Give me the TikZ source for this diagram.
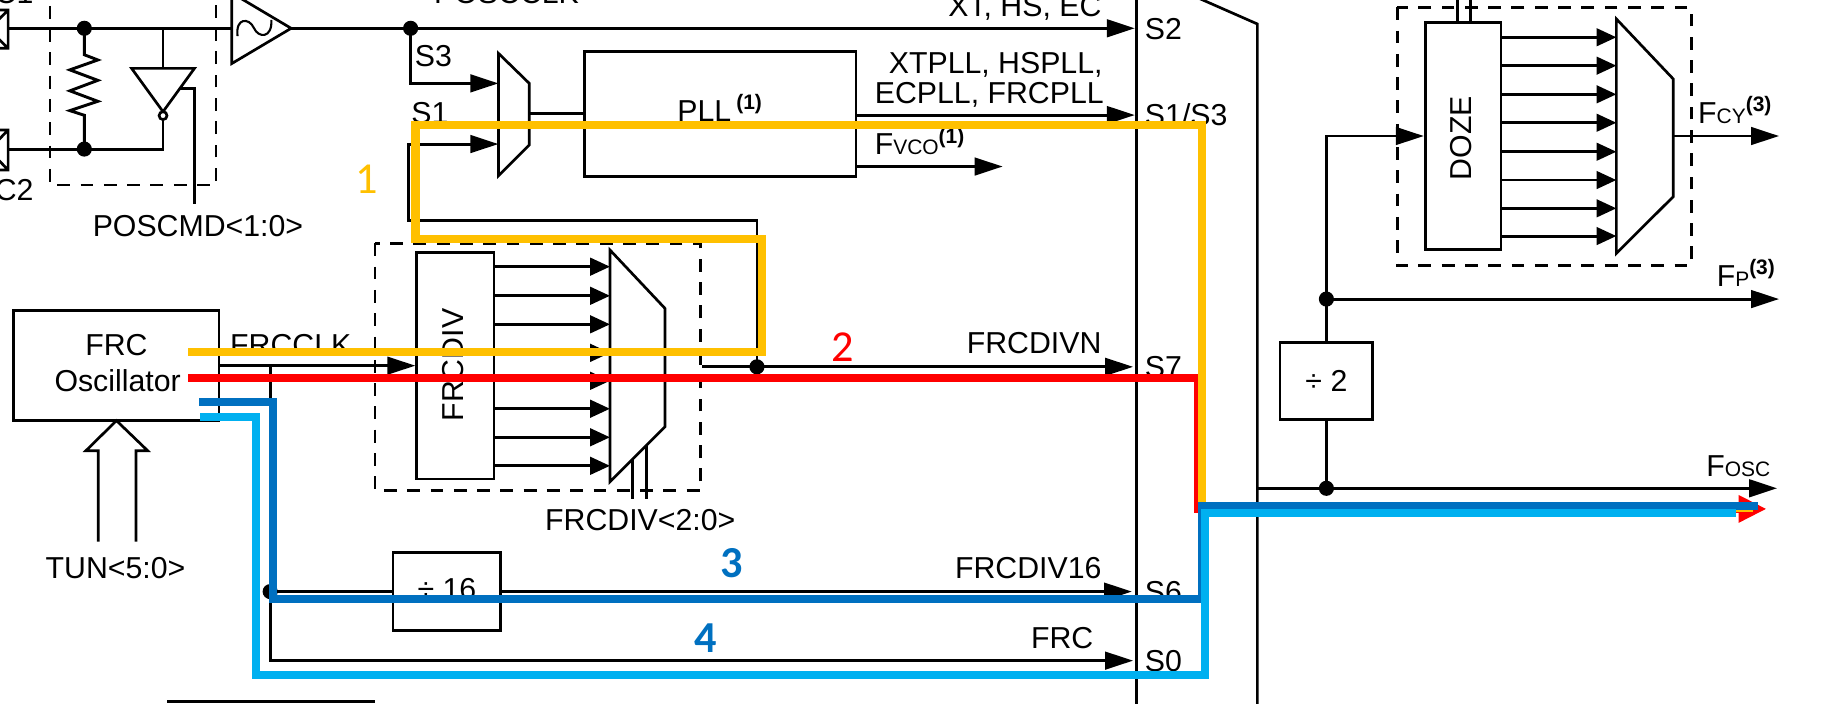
\documentclass[tikz,border=0pt]{standalone}
\usepackage{fontspec}
\setmainfont{Liberation Sans}
\newfontfamily\numfont{Carlito}
\usetikzlibrary{arrows.meta}
\definecolor{hlyellow}{HTML}{FFC000}
\definecolor{hlred}{HTML}{FF0000}
\definecolor{hldblue}{HTML}{0070C0}
\definecolor{hllblue}{HTML}{00B0F0}
\newcommand{\smc}[1]{{\fontsize{18}{18}\selectfont #1}}
\newcommand{\supn}[1]{\raisebox{10pt}{\fontsize{18}{18}\selectfont\bfseries (#1)}}
\begin{document}
\begin{tikzpicture}[x=1pt,y=-1pt,
 wire/.style={line width=2.5pt},
 shp/.style={line width=2.3pt, line join=miter},
 dsh/.style={line width=2.4pt, dash pattern=on 11pt off 9pt},
 arr/.style={wire,-{Triangle[length=24pt,width=15pt]}},
 sarr/.style={wire,-{Triangle[length=17pt,width=15pt]}},
 lbl/.style={inner sep=0pt, font=\fontsize{26}{30}\selectfont},
 dotn/.style={circle, fill, inner sep=0pt, minimum size=13pt},
 blk/.style={draw, line width=2.3pt, inner sep=0pt},
 hl/.style={line width=7pt, line join=miter},
 num/.style={inner sep=0pt, font=\numfont\fontsize{38}{40}\selectfont},
 numb/.style={inner sep=0pt, font=\numfont\bfseries\fontsize{38}{40}\selectfont},
]
\useasboundingbox (0,0) rectangle (1568,604);
\clip (0,0) rectangle (1568,604);

% ---------- blocks ----------
\node[blk, minimum width=233pt, minimum height=107.5pt] (pll) at (618.5,97.75) {};
\node[blk, minimum width=176.6pt, minimum height=94.2pt] (frc) at (99.7,314) {};
\node[blk, minimum width=66.4pt, minimum height=194.9pt] (frcdiv) at (391,314) {};
\node[blk, minimum width=92.4pt, minimum height=66.7pt] (d16) at (383.8,508) {};
\node[blk, minimum width=79.5pt, minimum height=66pt] (d2) at (1139,327) {};
\node[blk, minimum width=65.2pt, minimum height=195.2pt] (doze) at (1256.4,116.8) {};

% ---------- coordinates ----------
\coordinate (pin1) at (7,24.3);
\coordinate (pin2) at (7,128);
\coordinate (invin) at (140,24.3);
\coordinate (bufin) at (199,24.3);
\coordinate (bufout) at (250,24.3);
\coordinate (s2) at (974.5,24.3);
\coordinate (s13) at (974.5,98.8);
\coordinate (s7) at (973,315);
\coordinate (s6) at (972,508);
\coordinate (s0) at (973,567.3);
\coordinate (tap) at (232,314);
\coordinate (tapb) at (232,567.3);
\coordinate (mxout) at (1079.7,419.3);
\coordinate (fosc) at (1526,419.3);
\coordinate (fp) at (1527.7,256.8);
\coordinate (fcy) at (1527.7,116.8);

% ---------- oscillator pins ----------
\draw[shp] (-26,8.6) rectangle (7,41.5) (-26,8.6) -- (7,41.5) (-26,41.5) -- (7,8.6);
\draw[shp] (-26,111.6) rectangle (7,146) (-26,111.6) -- (7,146) (-26,146) -- (7,111.6);
\draw[dsh] (43,-15) rectangle (185.5,158.8);
\draw[wire] (pin1) -- (bufin);
\draw[wire] (invin) -- (140,58.7);
\draw[shp] (113,58.7) -- (167,58.7) -- (140,95.9) -- cycle;
\draw[shp, fill=white] (140,99.3) circle (3.4pt);
\draw[wire] (140,102.7) -- (140,128) -- (pin2);
\draw[wire] (154.9,75.8) -- (167.4,75.8) -- (167.4,175);
\draw[wire] (72.4,24.3) -- (72.4,47) -- (84,51.5) -- (60,60) -- (84,69) -- (60,78) -- (84,87) -- (60,95) -- (72.4,99) -- (72.4,128);
\node[dotn] (dA) at (72.4,24.3) {};
\node[dotn] (dB) at (72.4,128) {};

% Schmitt buffer
\draw[shp] (199,-6) -- (bufout) -- (199,54.6) -- cycle;
\draw[line width=1.8pt] (204,31) .. controls (202,15) and (214,15) .. (218,24) .. controls (222,33) and (234,33) .. (233,17);

% ---------- PLL path ----------
\draw[arr] (bufout) -- (s2);
\node[dotn] (dC) at (352.6,24.3) {};
\draw[arr] (dC.center) -- (352.6,71.6) -- (428,71.6);
\draw[shp] (428,45.8) -- (454.5,71.6) -- (454.5,124.5) -- (428,151) -- cycle;
\draw[wire] (454.5,97.75) -- (pll.west);
\draw[arr] (735,98.8) -- (s13);
\draw[arr] (735,143) -- (861,143);

% ---------- FRCDIV ----------
\draw[dsh] (322,209) rectangle (601.7,421.3);
\foreach \y in {229,254,278.5,303,327,351,375.5,400}
  \draw[sarr] (424.2,\y) -- (523.8,\y);
\draw[shp] (523.8,214.7) -- (571,264.8) -- (571,366.4) -- (523.8,413.6) -- cycle;
\draw[wire] (543.3,394.1) -- (543.3,428.8);
\draw[wire] (555.3,382.1) -- (555.3,428.8);
\node[dotn] (dD) at (650,315) {};
\draw[arr] (603,315) -- (s7);
\draw[arr] (dD.center) -- (650,189) -- (351,189) -- (351,123.7) -- (428,123.7);

% FRCCLK and branches
\draw[arr] (frc.east) -- (frcdiv.west);
\draw[arr] (tap) -- (tapb) -- (s0);
\node[dotn] (dE) at (232,508) {};
\draw[wire] (dE.center) -- (d16.west);
\draw[arr] (d16.east) -- (s6);

% TUN hollow arrow
\draw[shp] (84.4,465) -- (84.4,387) -- (73.8,387) -- (100,361.2) -- (126.8,387) -- (116.8,387) -- (116.8,465);

% ---------- big mux ----------
\draw[shp] (976,-30) -- (976,640);
\draw[shp] (976,-25) -- (1079.7,20.6) -- (1079.7,640);

% ---------- right side ----------
\draw[arr] (mxout) -- (fosc);
\node[dotn] (dF) at (1139,419.3) {};
\draw[wire] (dF.center) -- (d2.south);
\node[dotn] (dG) at (1139,256.8) {};
\draw[wire] (d2.north) -- (dG.center);
\draw[arr] (dG.center) -- (fp);
\draw[arr] (dG.center) -- (1139,116.8) -- (doze.west);
\draw[dsh] (1199.7,6.3) rectangle (1452.6,228);
\draw[wire] (1251.7,-5) -- (1251.7,19.5);
\draw[wire] (1262.6,-5) -- (1262.6,19.5);
\foreach \y in {32,56.4,81,105.4,130.3,154.6,178.9,202.7}
  \draw[sarr] (1289,\y) -- (1388,\y);
\draw[shp] (1388,16.3) -- (1436.8,67.8) -- (1436.8,168.9) -- (1388,217.5) -- cycle;
\draw[arr] (1436.8,116.8) -- (fcy);

\draw[line width=3pt] (143.8,602.5) -- (322.4,602.5);

% ---------- labels ----------
\node[lbl, anchor=base east] (tosc1) at (29,3) {OSC1};
\node[lbl, anchor=base east] (tosc2) at (29,172) {OSC2};
\node[lbl, anchor=base] (tposcmd) at (170,203) {POSCMD<1:0>};
\node[lbl, anchor=base] (tposcclk) at (435,2.6) {POSCCLK};
\node[lbl, anchor=base east] (txt) at (946,14.3) {XT, HS, EC};
\node[lbl, anchor=base west] (ls2) at (983,33.6) {S2};
\node[lbl, anchor=base west] (ls13) at (983,108.1) {S1/S3};
\node[lbl, anchor=base west] (ls7) at (983,324.2) {S7};
\node[lbl, anchor=base west] (ls6) at (983,517.3) {S6};
\node[lbl, anchor=base west] (ls0) at (983,576.6) {S0};
\node[lbl, anchor=base west] (ls3) at (356,57) {S3};
\node[lbl, anchor=base west] (ls1) at (353,106) {S1};
\node[lbl, anchor=base] (tpll) at (618,104) {PLL\,\supn{1}};
\node[lbl, anchor=base east] (txtpll) at (947,63) {XTPLL, HSPLL,};
\node[lbl, anchor=base east] (tecpll) at (948,89) {ECPLL, FRCPLL};
\node[lbl, anchor=base west] (tfvco) at (751,133) {F\smc{VCO}\supn{1}};
\node[lbl, anchor=base west] (tfrcclk) at (197.5,305) {FRCCLK};
\node[lbl, anchor=base] (tfrc1) at (100,305) {FRC};
\node[lbl, anchor=base] (tfrc2) at (101,336) {Oscillator};
\node[lbl, anchor=base west] (ttun) at (39,496.6) {TUN<5:0>};
\node[lbl, rotate=90] (tfrcdiv) at (389,313.5) {FRCDIV};
\node[lbl, anchor=base west] (tfrcdivsel) at (468,455.7) {FRCDIV<2:0>};
\node[lbl, anchor=base east] (tfrcdivn) at (946,303.4) {FRCDIVN};
\node[lbl, anchor=base east] (tfrcdiv16) at (946,496.6) {FRCDIV16};
\node[lbl, anchor=base east] (tfrcs0) at (939,556.7) {FRC};
\node[lbl, anchor=base] (td16) at (383.8,515) {÷ 16};
\node[lbl, anchor=base] (td2) at (1139,336.6) {÷ 2};
\node[lbl, rotate=90] (tdoze) at (1254.6,118.8) {DOZE};
\node[lbl, anchor=base west] (tfcy) at (1458,106) {F\smc{CY}\supn{3}};
\node[lbl, anchor=base west] (tfp) at (1474,246) {F\smc{P}\supn{3}};
\node[lbl, anchor=base west] (tfosc) at (1465,409.4) {F\smc{OSC}};

% ---------- highlighted paths ----------
\draw[hl, hlred, -{Triangle[length=24pt,width=22pt]}] (161.7,324.6) -- (1029,324.6) -- (1029,437) -- (1517,437);
\draw[hl, hlyellow] (161.7,302.5) -- (654.6,302.5) -- (654.6,205) -- (356.8,205) -- (356.8,107.3) -- (1032.5,107.3) -- (1032.5,436) -- (1505,436);
\draw[hl, hldblue] (171,345.5) -- (234.3,345.5) -- (234.3,514.7) -- (1032,514.7) -- (1032,434.6) -- (1509.6,434.6);
\draw[hl, hllblue] (171.8,357.8) -- (219.8,357.8) -- (219.8,579.7) -- (1034.8,579.7) -- (1034.8,440.8) -- (1491,440.8);

\node[num, text=hlyellow] (n1) at (314.6,153.8) {1};
\node[num, text=hlred] (n2) at (723.8,298.4) {2};
\node[numb, text=hldblue] (n3) at (628.5,483.5) {3};
\node[numb, text=hldblue] (n4) at (605.8,548) {4};
\end{tikzpicture}
\end{document}
